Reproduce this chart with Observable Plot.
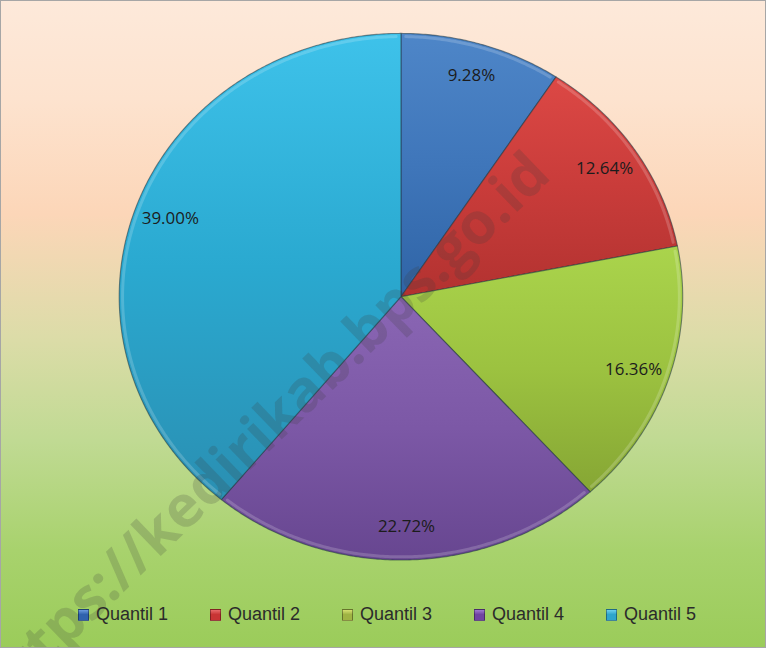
<!DOCTYPE html>
<html>
<head>
<meta charset="utf-8">
<script src="https://cdn.jsdelivr.net/npm/d3@7"></script>
<script src="https://cdn.jsdelivr.net/npm/@observablehq/plot@0.6"></script>
<style>
  html, body { margin: 0; padding: 0; }
  #wrap {
    position: relative; width: 766px; height: 648px; box-sizing: border-box;
    border: 1px solid #a6a6a6; overflow: hidden;
    background: linear-gradient(to bottom, #fde9da 0%, #fde3cf 15%, #fcd6b8 33%, #dcdca8 52%, #c0da93 68%, #a8d26d 85%, #9bcc5a 100%);
  }
  #wrap svg { position: absolute; left: 0; top: 0; background: transparent; }
  #legend { position: absolute; left: 77px; top: 603px; display: flex; font-family: "Liberation Sans", Arial, sans-serif; font-size: 18px; color: #2b2b2b; }
  .item { width: 132px; display: flex; align-items: center; white-space: nowrap; }
  .sw { width: 11px; height: 12px; margin-right: 7px; box-sizing: border-box; border: 1px solid rgba(0,0,0,0.35); }
</style>
</head>
<body>
<div id="wrap"></div>
<script>
// ---- data ----
const categories = ["Quantil 1", "Quantil 2", "Quantil 3", "Quantil 4", "Quantil 5"];
const shares = [9.28, 12.64, 16.36, 22.72, 39.00];
const labels = ["9.28%", "12.64%", "16.36%", "22.72%", "39.00%"];
const watermark = "https://kedirikab.bps.go.id";

// ---- styles ----
const gradTop = ["#4e86c8", "#dc4845", "#aad44c", "#8a66b4", "#3ec2ea"];
const gradMid = ["#3f76ba", "#c93c3a", "#9cc240", "#7c58a6", "#2aa9d0"];
const gradBot = ["#2f64a6", "#b23230", "#86a634", "#674690", "#2a8fb2"];

// ---- geometry derived from the data ----
const slices = [];
const rims = [];
const labelRows = [];
let acc = 0;
categories.forEach((cat, i) => {
  const a0 = acc / 100 * 2 * Math.PI;
  acc += shares[i];
  const a1 = acc / 100 * 2 * Math.PI;
  const n = Math.max(4, Math.ceil((a1 - a0) / (Math.PI / 360)));
  slices.push({cat, i, x: 0, y: 0});
  for (let k = 0; k <= n; k++) {
    const a = a0 + (a1 - a0) * k / n;
    slices.push({cat, i, x: Math.sin(a), y: Math.cos(a)});
    if (k > 1 && k < n - 1) rims.push({cat, x: 0.988 * Math.sin(a), y: 0.988 * Math.cos(a)});
  }
  slices.push({cat, i, x: 0, y: 0});
  const am = (a0 + a1) / 2;
  labelRows.push({cat, label: labels[i], x: 0.87 * Math.sin(am), y: 0.875 * Math.cos(am)});
});

function defs() {
  const g = document.createElementNS("http://www.w3.org/2000/svg", "g");
  g.innerHTML = "<defs>" + categories.map((c, i) =>
    `<linearGradient id="grad${i}" x1="0" y1="0" x2="0" y2="1">
       <stop offset="0" stop-color="${gradTop[i]}"/>
       <stop offset="0.5" stop-color="${gradMid[i]}"/>
       <stop offset="1" stop-color="${gradBot[i]}"/>
     </linearGradient>`).join("") + "</defs>";
  return g;
}

const chart = Plot.plot({
  width: 766,
  height: 648,
  marginLeft: 118,
  marginRight: 83,
  marginTop: 32,
  marginBottom: 88,
  x: {domain: [-1, 1], axis: null},
  y: {domain: [-1, 1], axis: null},
  color: {type: "identity"},
  style: {background: "transparent", overflow: "visible"},
  marks: [
    defs,
    Plot.line(slices, {x: "x", y: "y", z: "cat", fill: d => `url(#grad${d.i})`, stroke: "#1e3440", strokeOpacity: 0.55, strokeWidth: 1.1, curve: "linear"}),
    Plot.line(rims, {x: "x", y: "y", z: "cat", stroke: "#ffffff", strokeOpacity: 0.18, strokeWidth: 3, curve: "linear"}),
    Plot.text(labelRows, {x: "x", y: "y", text: "label", fontSize: 17, fontFamily: "Open Sans, sans-serif", fill: "#1c1c1c", textAnchor: "middle"}),
    Plot.text([watermark], {text: d => d, frameAnchor: "top-left", dx: 422, dy: 131, rotate: -44, textAnchor: "end", lineAnchor: "middle", fontSize: 58, fontWeight: "bold", fontFamily: "Open Sans, sans-serif", fill: "#3a3a3a", fillOpacity: 0.2})
  ]
});
document.getElementById("wrap").appendChild(chart);

// ---- legend ----
const legendColors = ["#2f62ad", "#c83434", "#9fb343", "#7043a2", "#2ea5cc"];
const legendTop = ["#6a9ade", "#e86a6a", "#d6e070", "#a07ad0", "#6ed0ee"];
const leg = document.createElement("div");
leg.id = "legend";
categories.forEach((c, i) => {
  const it = document.createElement("div");
  it.className = "item";
  const sw = document.createElement("span");
  sw.className = "sw";
  sw.style.background = `linear-gradient(to bottom, ${legendTop[i]} 0%, ${legendColors[i]} 45%, ${legendColors[i]} 100%)`;
  const tx = document.createElement("span");
  tx.textContent = c;
  it.appendChild(sw); it.appendChild(tx);
  leg.appendChild(it);
});
document.getElementById("wrap").appendChild(leg);
</script>
</body>
</html>
